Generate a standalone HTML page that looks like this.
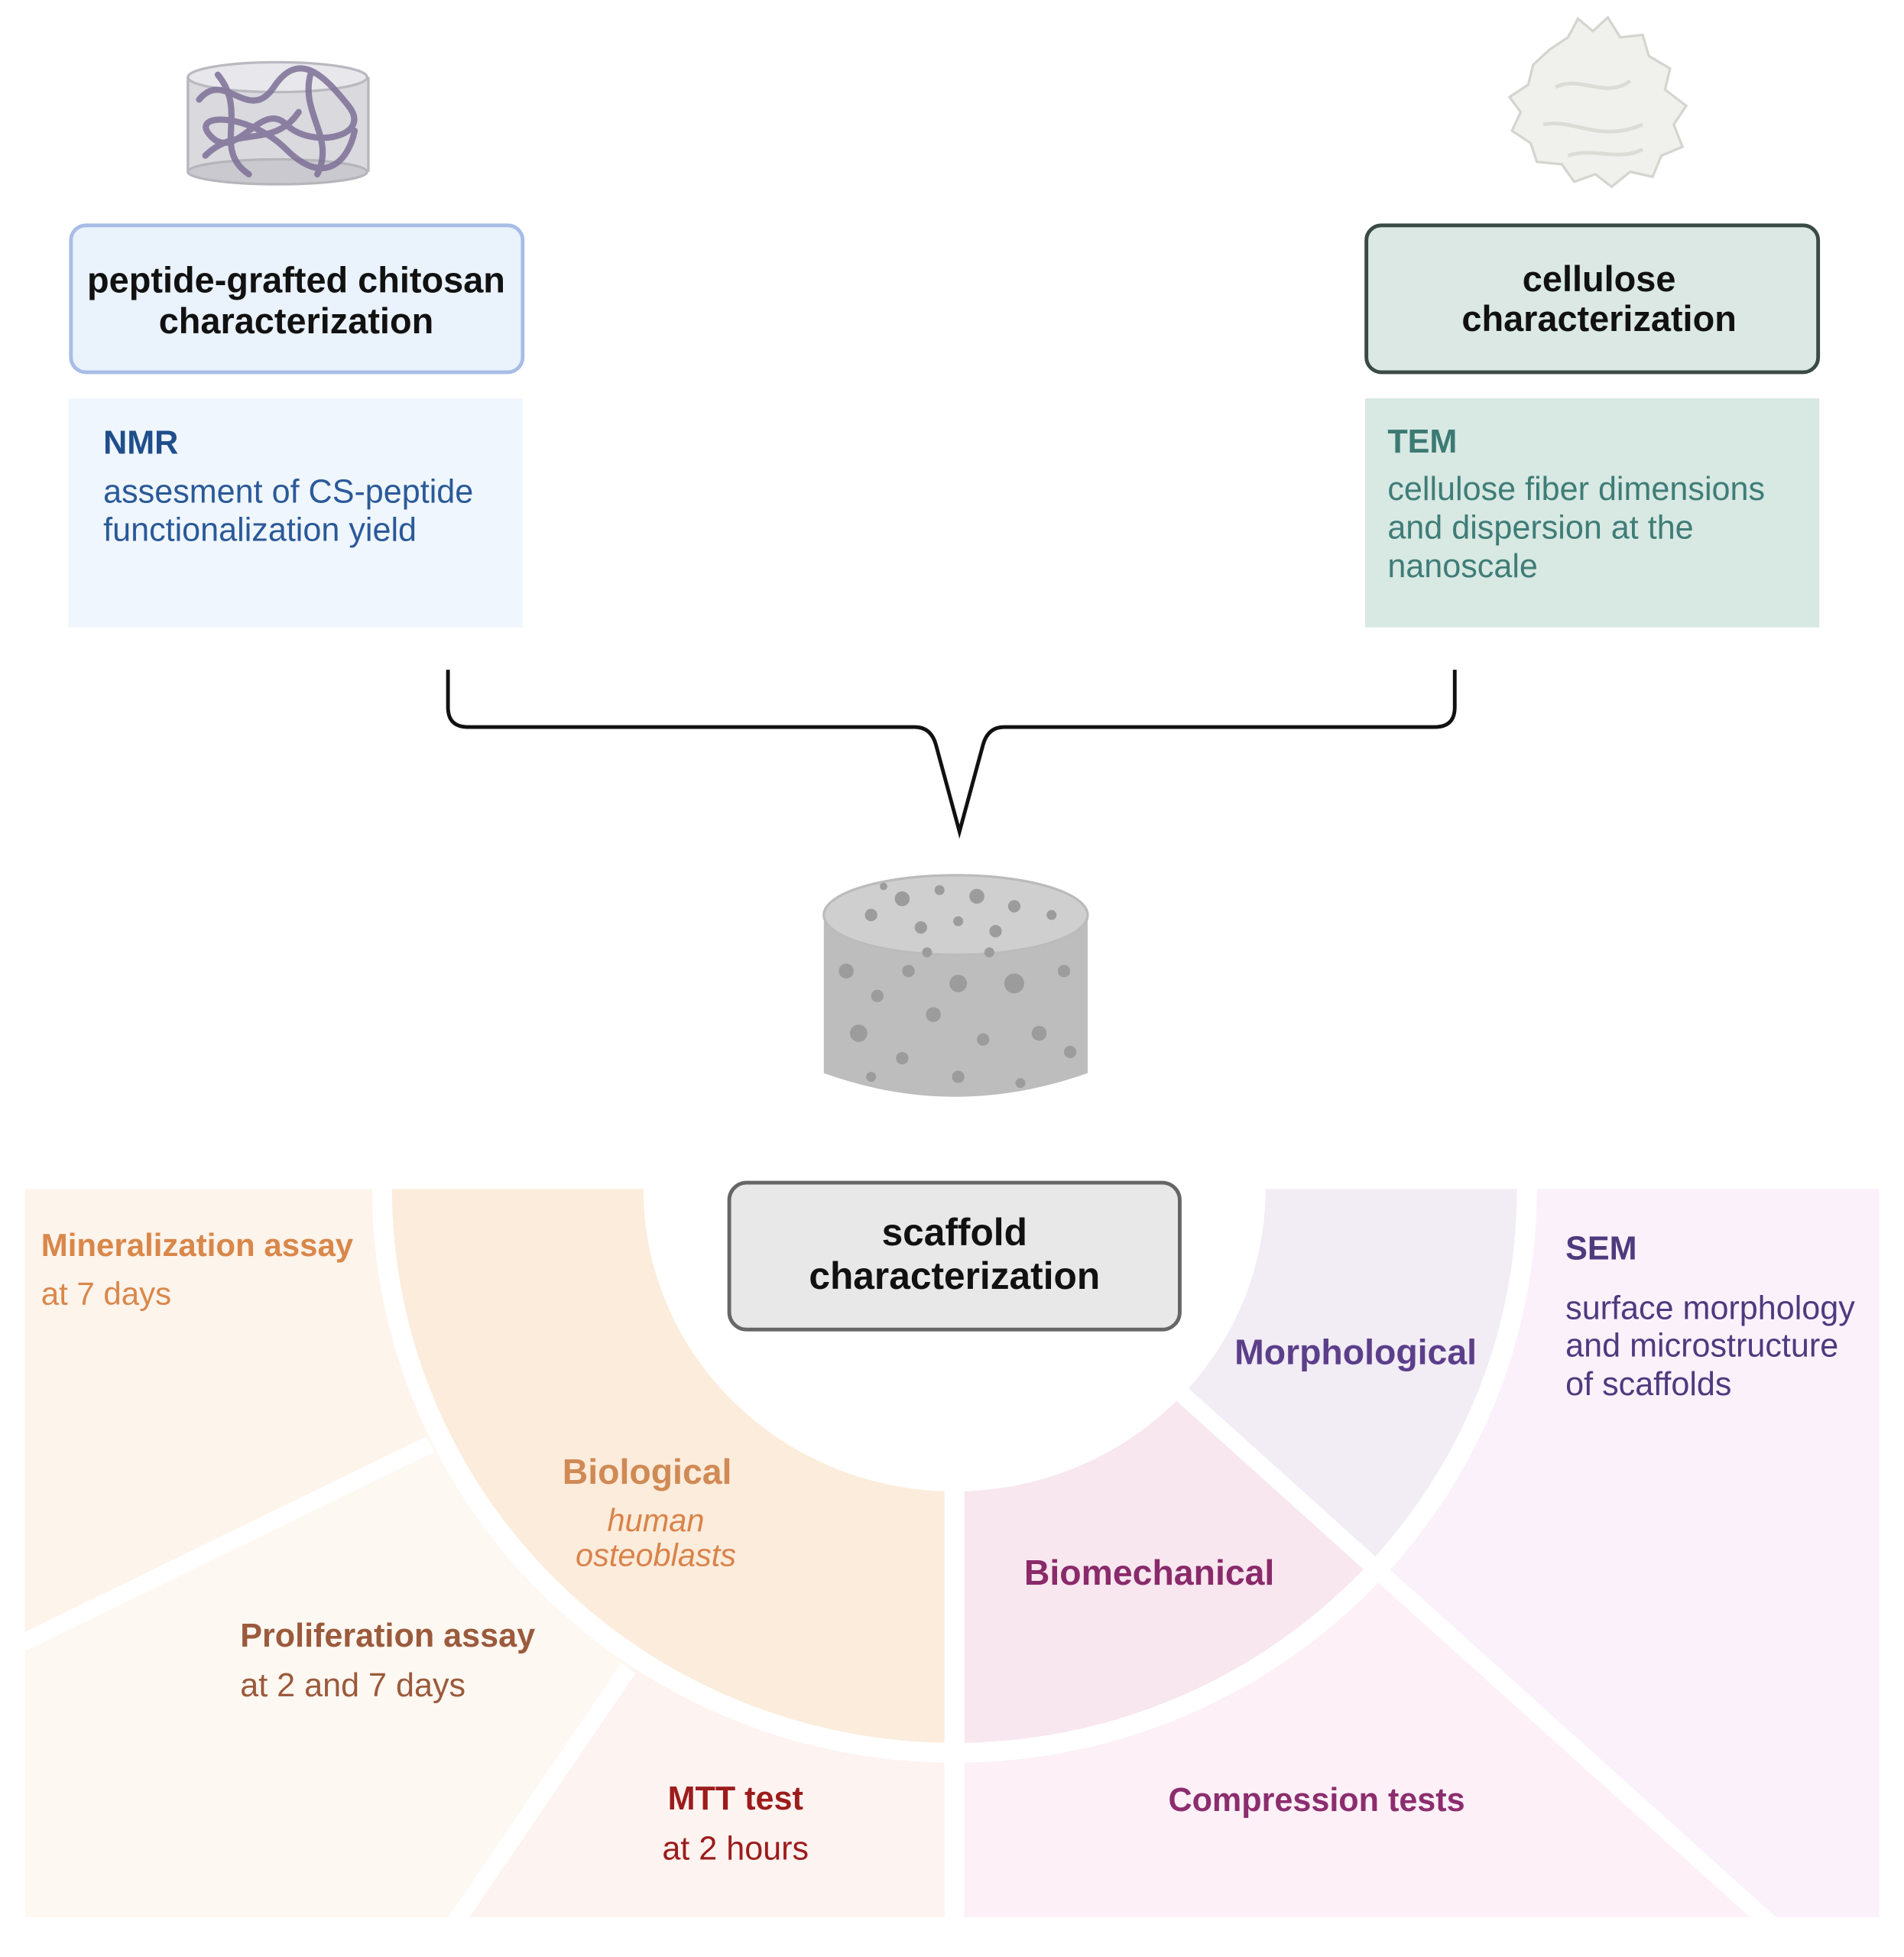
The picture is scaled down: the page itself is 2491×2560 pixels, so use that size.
<!DOCTYPE html>
<html><head><meta charset="utf-8"><style>
html,body{margin:0;padding:0;background:#fff;overflow:hidden;width:2491px;height:2560px;}
svg{display:block;}
text{font-family:"Liberation Sans",sans-serif;}
</style></head><body>
<svg width="2491" height="2560" viewBox="0 0 1530 1572" preserveAspectRatio="none" xmlns="http://www.w3.org/2000/svg">
<defs>
<clipPath id="rc"><rect x="20" y="955" width="1490" height="585"/></clipPath>
<clipPath id="cBio"><polygon points="767,955 -2000,955 -2000,3000 767,3000"/></clipPath>
<clipPath id="cMech"><polygon points="767,955 767,3000 2597,2605"/></clipPath>
<clipPath id="cMorph"><polygon points="767,955 2597,2605 2597,955"/></clipPath>
</defs>
<rect width="1530" height="1572" fill="#fff"/>

<g>
<rect x="151" y="62" width="145" height="76" fill="#d9d9de"/>
<ellipse cx="223" cy="138" rx="72" ry="10" fill="#c9c9cf" stroke="#b5b5bb" stroke-width="2"/>
<ellipse cx="223" cy="62" rx="72" ry="12" fill="#e7e7ec" stroke="#b9b9c0" stroke-width="2"/>
<line x1="151" y1="62" x2="151" y2="138" stroke="#b5b5bb" stroke-width="2"/>
<line x1="296" y1="62" x2="296" y2="138" stroke="#b5b5bb" stroke-width="2"/>
<path d="M160,80 C180,55 200,100 220,70 S260,60 280,85 S250,120 230,100 S190,130 170,110 S200,90 230,120 S280,130 285,105 M175,60 C200,90 170,120 200,140 M250,58 C240,90 270,110 255,140 M165,125 C190,100 220,120 240,90" fill="none" stroke="#7d6e96" stroke-width="5" stroke-linecap="round" opacity="0.85"/>
</g>

<path d="M1245,40 L1260,30 L1268,15 L1280,25 L1292,14 L1302,30 L1320,28 L1325,45 L1342,55 L1338,72 L1355,85 L1345,100 L1352,118 L1335,125 L1328,142 L1310,138 L1295,150 L1282,140 L1265,146 L1255,132 L1235,130 L1230,115 L1215,105 L1222,90 L1213,78 L1228,68 L1232,52 Z" fill="#f0f0ec" stroke="#d5d5cf" stroke-width="2"/>
<path d="M1250,70 C1270,60 1290,80 1310,65 M1240,100 C1265,95 1285,115 1320,100 M1260,125 C1280,118 1300,130 1320,120" fill="none" stroke="#dcdcd6" stroke-width="3"/>

<rect x="57" y="181" width="363" height="118" rx="12" fill="#eaf2fc" stroke="#a7bde6" stroke-width="3"/>
<text x="238" y="225" text-anchor="middle" dominant-baseline="central" font-size="28.8" font-weight="bold" fill="#111">peptide-grafted chitosan</text>
<text x="238" y="258" text-anchor="middle" dominant-baseline="central" font-size="28.8" font-weight="bold" fill="#111">characterization</text>
<rect x="55" y="320" width="365" height="184" fill="#f0f6fd"/>
<text x="83" y="356" dominant-baseline="central" font-size="26.5" font-weight="bold" fill="#1f4e8c">NMR</text>
<text x="83" y="395" dominant-baseline="central" font-size="26.5" fill="#2a5a98">assesment of CS-peptide</text>
<text x="83" y="426" dominant-baseline="central" font-size="26.5" fill="#2a5a98">functionalization yield</text>

<rect x="1098" y="181" width="363" height="118" rx="12" fill="#dbe8e4" stroke="#3a4a45" stroke-width="3"/>
<text x="1285" y="224" text-anchor="middle" dominant-baseline="central" font-size="28.8" font-weight="bold" fill="#111">cellulose</text>
<text x="1285" y="256" text-anchor="middle" dominant-baseline="central" font-size="28.8" font-weight="bold" fill="#111">characterization</text>
<rect x="1097" y="320" width="365" height="184" fill="#d8e8e3"/>
<text x="1115" y="355" dominant-baseline="central" font-size="26.5" font-weight="bold" fill="#3c7a74">TEM</text>
<text x="1115" y="393" dominant-baseline="central" font-size="26.5" fill="#3f7d77">cellulose fiber dimensions</text>
<text x="1115" y="424" dominant-baseline="central" font-size="26.5" fill="#3f7d77">and dispersion at the</text>
<text x="1115" y="455" dominant-baseline="central" font-size="26.5" fill="#3f7d77">nanoscale</text>

<path d="M360,538 L360,568 Q360,584 376,584 L735,584 Q748,584 752,598 L771,668 L790,598 Q794,584 807,584 L1153,584 Q1169,584 1169,568 L1169,538" fill="none" stroke="#111" stroke-width="3"/>

<g>
<path d="M662,740 L662,862 Q767,900 874,862 L874,740 Z" fill="#bdbdbd"/>
<ellipse cx="768" cy="735" rx="106" ry="32" fill="#cfcfcf" stroke="#bbb" stroke-width="2"/>
<g fill="#9c9c9c">
<circle cx="700" cy="735" r="5"/><circle cx="725" cy="722" r="6"/><circle cx="755" cy="715" r="4"/><circle cx="785" cy="720" r="6"/><circle cx="815" cy="728" r="5"/><circle cx="845" cy="735" r="4"/><circle cx="740" cy="745" r="5"/><circle cx="770" cy="740" r="4"/><circle cx="800" cy="748" r="5"/><circle cx="710" cy="712" r="3"/>
<circle cx="680" cy="780" r="6"/><circle cx="705" cy="800" r="5"/><circle cx="690" cy="830" r="7"/><circle cx="730" cy="780" r="5"/><circle cx="750" cy="815" r="6"/><circle cx="725" cy="850" r="5"/><circle cx="770" cy="790" r="7"/><circle cx="790" cy="835" r="5"/><circle cx="815" cy="790" r="8"/><circle cx="835" cy="830" r="6"/><circle cx="855" cy="780" r="5"/><circle cx="860" cy="845" r="5"/><circle cx="770" cy="865" r="5"/><circle cx="700" cy="865" r="4"/><circle cx="820" cy="870" r="4"/><circle cx="745" cy="765" r="4"/><circle cx="795" cy="765" r="4"/>
</g>
</g>

<g clip-path="url(#rc)">
<polygon points="767,955 -1000,955 -3453,3005" fill="#fdf4eb"/>
<polygon points="767,955 -3453,3005 -1853,4805" fill="#fef8f2"/>
<polygon points="767,955 -1853,4805 767,4805" fill="#fdf3f0"/>
<polygon points="767,955 767,4805 6257,5905" fill="#fdf0f7"/>
<polygon points="767,955 6257,5905 6257,955" fill="#fbf1fb"/>
<ellipse cx="767" cy="955" rx="468" ry="461" fill="#fff"/>
<ellipse cx="767" cy="955" rx="452" ry="445" fill="#fcecdc" clip-path="url(#cBio)"/>
<ellipse cx="767" cy="955" rx="452" ry="445" fill="#f8e7ef" clip-path="url(#cMech)"/>
<ellipse cx="767" cy="955" rx="452" ry="445" fill="#f2ecf5" clip-path="url(#cMorph)"/>
<ellipse cx="767" cy="955" rx="250" ry="243" fill="#fff"/>
<line x1="767" y1="1190" x2="767" y2="1560" stroke="#fff" stroke-width="16"/>
<line x1="950" y1="1120" x2="1450" y2="1570" stroke="#fff" stroke-width="14"/>
<line x1="346" y1="1160" x2="-100" y2="1377" stroke="#fff" stroke-width="14"/>
<line x1="505" y1="1340" x2="300" y2="1641" stroke="#fff" stroke-width="14"/>
</g>

<rect x="586" y="950" width="362" height="118" rx="14" fill="#e8e8e8" stroke="#666" stroke-width="3"/>
<text x="767" y="990" text-anchor="middle" dominant-baseline="central" font-size="30.5" font-weight="bold" fill="#111">scaffold</text>
<text x="767" y="1025" text-anchor="middle" dominant-baseline="central" font-size="30.5" font-weight="bold" fill="#111">characterization</text>

<text x="33" y="1000" dominant-baseline="central" font-size="25.8" font-weight="bold" fill="#d9874a">Mineralization assay</text>
<text x="33" y="1039" dominant-baseline="central" font-size="25.8" fill="#d9874a">at 7 days</text>
<text x="520" y="1182" text-anchor="middle" dominant-baseline="central" font-size="28.5" font-weight="bold" fill="#d08a55">Biological</text>
<text x="527" y="1221" text-anchor="middle" dominant-baseline="central" font-size="25.5" font-style="italic" fill="#d9834a">human</text>
<text x="527" y="1249" text-anchor="middle" dominant-baseline="central" font-size="25.5" font-style="italic" fill="#d9834a">osteoblasts</text>
<text x="193" y="1314" dominant-baseline="central" font-size="26.5" font-weight="bold" fill="#9b5a3c">Proliferation assay</text>
<text x="193" y="1354" dominant-baseline="central" font-size="26.5" fill="#9b5a3c">at 2 and 7 days</text>
<text x="591" y="1445" text-anchor="middle" dominant-baseline="central" font-size="26.5" font-weight="bold" fill="#9c1c1c">MTT test</text>
<text x="591" y="1485" text-anchor="middle" dominant-baseline="central" font-size="26.5" fill="#9c1c1c">at 2 hours</text>
<text x="992" y="1086" dominant-baseline="central" font-size="28.5" font-weight="bold" fill="#5b3f8a">Morphological</text>
<text x="1258" y="1003" dominant-baseline="central" font-size="26.5" font-weight="bold" fill="#4e3a7e">SEM</text>
<text x="1258" y="1051" dominant-baseline="central" font-size="26.5" fill="#4e3a7e">surface morphology</text>
<text x="1258" y="1081" dominant-baseline="central" font-size="26.5" fill="#4e3a7e">and microstructure</text>
<text x="1258" y="1112" dominant-baseline="central" font-size="26.5" fill="#4e3a7e">of scaffolds</text>
<text x="823" y="1263" dominant-baseline="central" font-size="28.5" font-weight="bold" fill="#8a2a6a">Biomechanical</text>
<text x="1058" y="1446" text-anchor="middle" dominant-baseline="central" font-size="26.5" font-weight="bold" fill="#8b2d6e">Compression tests</text>
</svg>
</body></html>
